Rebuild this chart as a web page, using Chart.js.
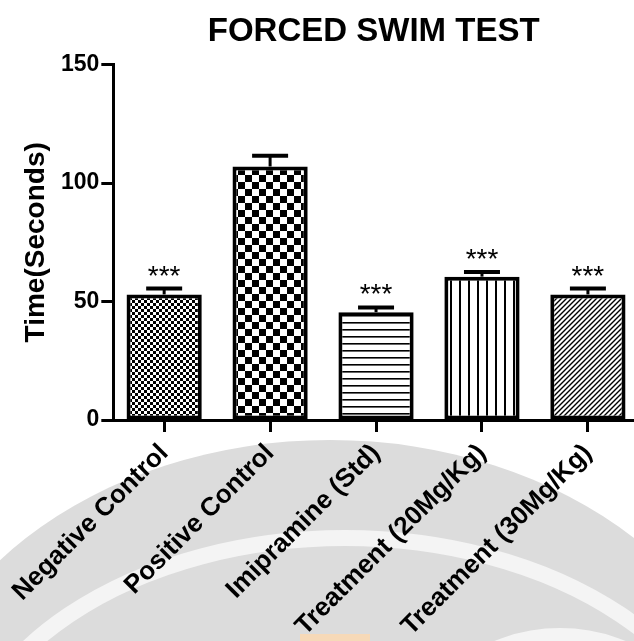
<!DOCTYPE html>
<html>
<head>
<meta charset="utf-8">
<script src="https://cdn.jsdelivr.net/npm/chart.js@4"></script>
<style>
  html, body { margin: 0; padding: 0; background: #fff; }
  #wrap { width: 634px; height: 641px; }
</style>
</head>
<body>
<div id="wrap"><canvas id="fstChart"></canvas></div>
<script>
// Forced swim test - immobility time per group (mean +/- SEM)
const categories = ['Negative Control', 'Positive Control', 'Imipramine (Std)', 'Treatment (20Mg/Kg)', 'Treatment (30Mg/Kg)'];
const meanTime = [53, 107, 45.5, 60.5, 53];
const semTime = [2.5, 4.5, 2, 2, 2.5];
const significance = ['***', '', '***', '***', '***'];
const yTicks = [0, 50, 100, 150];

const FONT = "'Liberation Sans', Arial, sans-serif";

// build a fill pattern for the bars (GraphPad style hatching)
function makePattern(kind) {
    const c = document.createElement('canvas');
    const g = c.getContext('2d');
    let w = 6, h = 6;
    if (kind === 'check') { w = 14; h = 14; }
    if (kind === 'hlines') { w = 8; h = 7; }
    if (kind === 'vlines') { w = 9; h = 8; }
    if (kind === 'diag') { w = 5; h = 5; }
    c.width = w; c.height = h;
    g.fillStyle = '#fff';
    g.fillRect(0, 0, w, h);
    g.fillStyle = '#000';
    g.strokeStyle = '#000';
    switch (kind) {
        case 'fineCheck':
            g.fillRect(0, 0, 3, 3);
            g.fillRect(3, 3, 3, 3);
            break;
        case 'check':
            g.fillRect(0, 0, 7, 7);
            g.fillRect(7, 7, 7, 7);
            break;
        case 'hlines':
            g.fillRect(0, 0, w, 1.6);
            break;
        case 'vlines':
            g.fillRect(0, 0, 2, h);
            break;
        case 'diag':
            g.lineWidth = 1.4;
            g.beginPath();
            g.moveTo(-1, h + 1); g.lineTo(w + 1, -1);
            g.moveTo(-1, 1); g.lineTo(1, -1);
            g.moveTo(w - 1, h + 1); g.lineTo(w + 1, h - 1);
            g.stroke();
            break;
    }
    return g.createPattern(c, 'repeat');
}

const fills = ['fineCheck', 'check', 'hlines', 'vlines', 'diag'].map(makePattern);

// faint watermark behind the plot (bottom of the page)
const watermark = {
    id: 'watermark',
    beforeDraw(chart) {
        const ctx = chart.ctx;
        ctx.save();
        ctx.fillStyle = '#fff';
        ctx.fillRect(0, 0, chart.width, chart.height);
        ctx.fillStyle = '#dcdcdc';
        ctx.beginPath();
        ctx.ellipse(330, 775, 430, 335, 0, 0, Math.PI * 2);
        ctx.fill();
        ctx.strokeStyle = '#f4f4f4';
        ctx.lineWidth = 16;
        ctx.beginPath();
        ctx.ellipse(345, 800, 390, 262, 0, Math.PI, Math.PI * 2);
        ctx.stroke();
        ctx.lineWidth = 14;
        ctx.beginPath();
        ctx.ellipse(560, 770, 150, 135, 0, Math.PI, Math.PI * 2);
        ctx.stroke();
        ctx.fillStyle = '#f6d9b8';
        ctx.fillRect(300, 634, 70, 7);
        ctx.restore();
    }
};

// error bars (upper half only, drawn behind bars) and significance stars
const errorBars = {
    id: 'errorBars',
    beforeDatasetsDraw(chart) {
        const ctx = chart.ctx;
        const y = chart.scales.y;
        const meta = chart.getDatasetMeta(0);
        ctx.save();
        ctx.strokeStyle = '#000';
        meta.data.forEach((bar, i) => {
            const top = y.getPixelForValue(meanTime[i] + semTime[i]);
            ctx.lineWidth = 3;
            ctx.beginPath();
            ctx.moveTo(bar.x, bar.y);
            ctx.lineTo(bar.x, top);
            ctx.stroke();
            ctx.lineWidth = 4;
            ctx.beginPath();
            ctx.moveTo(bar.x - 18, top);
            ctx.lineTo(bar.x + 18, top);
            ctx.stroke();
        });
        ctx.restore();
    },
    afterDatasetsDraw(chart) {
        const ctx = chart.ctx;
        const y = chart.scales.y;
        const meta = chart.getDatasetMeta(0);
        ctx.save();
        ctx.fillStyle = '#000';
        ctx.font = '28px ' + FONT;
        ctx.textAlign = 'center';
        ctx.textBaseline = 'alphabetic';
        meta.data.forEach((bar, i) => {
            if (!significance[i]) return;
            const top = y.getPixelForValue(meanTime[i] + semTime[i]);
            ctx.fillText(significance[i], bar.x, top - 4);
        });
        ctx.restore();
    }
};

// x runs on past the canvas edge a little, so the axis line leaves the page on the right
const xMin = -0.48, xMax = 4.435;

new Chart(document.getElementById('fstChart'), {
    type: 'bar',
    data: {
        datasets: [{
            data: categories.map((_, i) => ({ x: i, y: meanTime[i] })),
            backgroundColor: fills,
            borderColor: '#000',
            borderWidth: 4,
            borderSkipped: false,
            barPercentage: 0.71,
            categoryPercentage: 1
        }]
    },
    options: {
        responsive: true,
        maintainAspectRatio: false,
        animation: false,
        layout: { padding: 0 },
        plugins: {
            legend: { display: false },
            tooltip: { enabled: false },
            title: {
                display: true,
                fullSize: false,
                text: 'FORCED SWIM TEST',
                color: '#000',
                font: { family: FONT, size: 33, weight: 'bold' },
                padding: { top: 12, bottom: 13 }
            }
        },
        scales: {
            x: {
                type: 'linear',
                min: xMin,
                max: xMax,
                offset: false,
                afterBuildTicks(scale) { scale.ticks = categories.map((_, i) => ({ value: i })); },
                afterFit(scale) { scale.height = 221; },
                grid: { display: true, offset: false, drawOnChartArea: false, drawTicks: true, tickLength: 12, tickWidth: 3, color: '#000' },
                border: { display: true, color: '#000', width: 3 },
                ticks: {
                    color: '#000',
                    maxRotation: 45,
                    minRotation: 45,
                    autoSkip: false,
                    padding: 6,
                    font: { family: FONT, size: 26, weight: 'bold' },
                    callback: (value) => categories[value]
                }
            },
            y: {
                min: yTicks[0],
                max: yTicks[yTicks.length - 1],
                afterBuildTicks(scale) { scale.ticks = yTicks.map(v => ({ value: v })); },
                afterFit(scale) { scale.width = 113; },
                grid: { display: true, drawOnChartArea: false, drawTicks: true, tickLength: 12, tickWidth: 3, color: '#000' },
                border: { display: true, color: '#000', width: 3 },
                ticks: {
                    color: '#000',
                    padding: 2,
                    font: { family: FONT, size: 23, weight: 'bold' }
                },
                title: {
                    display: true,
                    text: 'Time(Seconds)',
                    color: '#000',
                    font: { family: FONT, size: 28, weight: 'bold' },
                    padding: { top: 19, bottom: 0 }
                }
            }
        }
    },
    plugins: [watermark, errorBars]
});
</script>
</body>
</html>
